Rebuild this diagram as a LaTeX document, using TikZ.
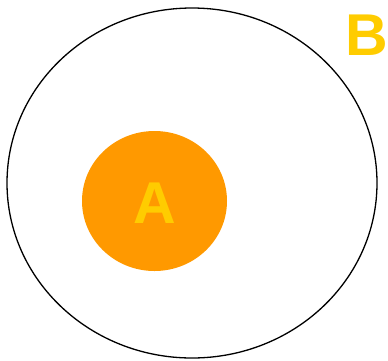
\documentclass[tikz,border=0pt]{standalone}
\usepackage{fontspec}
\setmainfont{Liberation Sans}
\definecolor{orangeA}{HTML}{FF9900}
\definecolor{yellowT}{HTML}{FFCC00}
\tikzset{lbl/.style={text=yellowT, font=\fontsize{59}{59}\selectfont\bfseries, inner sep=0pt}}
\begin{document}
\begin{tikzpicture}[x=1pt,y=-1pt]
\useasboundingbox (0,0) rectangle (388,360);
\draw[line width=1.3pt] (192,183) ellipse [x radius=185, y radius=175];
\fill[orangeA] (154.5,201) ellipse [x radius=72.5, y radius=70];
\node[lbl] (a) at (155,203) {A};
\node[lbl] (b) at (367,35) {B};
\end{tikzpicture}
\end{document}
